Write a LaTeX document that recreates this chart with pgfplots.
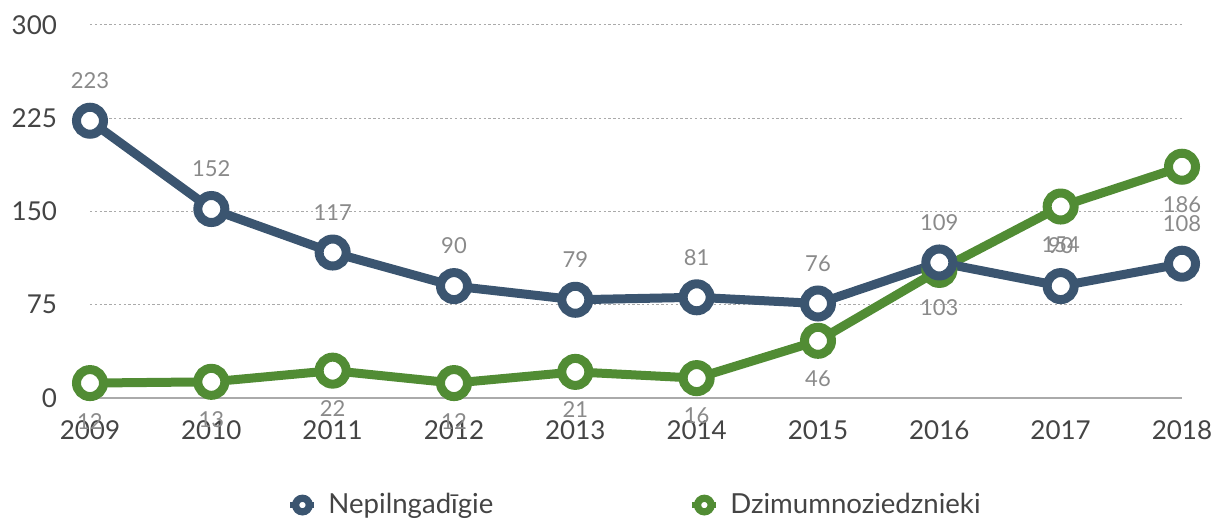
\documentclass[border=0pt]{standalone}
\usepackage{fontspec}
\setmainfont{Lato}
\usepackage{pgfplots}
\pgfplotsset{compat=1.18}
\definecolor{cblue}{HTML}{3B5570}
\definecolor{cgreen}{HTML}{518C34}
\definecolor{labgray}{HTML}{8A8A8A}
\definecolor{tickgray}{HTML}{444444}
\definecolor{gridgray}{HTML}{AAAAAA}
\begin{document}
\begin{tikzpicture}
\begin{axis}[
  scale only axis,
  width=546pt, height=186.5pt,
  xmin=2009, xmax=2018, ymin=0, ymax=300,
  clip=false,
  axis x line*=bottom,
  axis y line*=left,
  y axis line style={draw=none},
  x axis line style={draw=gridgray, line width=0.6pt, -},
  major tick length=0pt,
  xtick={2009,2010,...,2018},
  ytick={0,75,150,225,300},
  /pgf/number format/assume math mode=true,
  /pgf/number format/1000 sep={},
  ymajorgrids,
  grid style={draw=gridgray, line width=0.5pt, dash pattern=on 1.2pt off 1.2pt},
  tick label style={font=\fontsize{13}{15}\selectfont, text=tickgray},
  xticklabel style={anchor=center, yshift=-16pt},
  yticklabel style={anchor=east, xshift=-13pt},
  legend columns=2,
  legend style={at={(0.5,-0.287)}, anchor=center, draw=none, fill=none,
    font=\fontsize{13.8}{16}\selectfont, text=tickgray,
    column sep=0pt,
    /tikz/every even column/.append style={column sep=96pt}},
]
\addlegendimage{legend image code/.code={
  \draw[cblue, line width=3pt] (0pt,0pt) -- (12pt,0pt);
  \draw[cblue, line width=3.6pt, fill=white] (6pt,0pt) circle (3.4pt);
  \path[draw=none, fill=none] (0pt,-1pt) rectangle (17pt,1pt);}}
\addlegendentry{Nepilngadīgie}
\addlegendimage{legend image code/.code={
  \draw[cgreen, line width=3pt] (0pt,0pt) -- (12pt,0pt);
  \draw[cgreen, line width=3.6pt, fill=white] (6pt,0pt) circle (3.4pt);
  \path[draw=none, fill=none] (0pt,-1pt) rectangle (17pt,1pt);}}
\addlegendentry{Dzimumnoziedznieki}

\addplot[forget plot, cgreen, line width=4.5pt, mark=*, mark size=6.75pt,
  mark options={draw=cgreen, fill=white, line width=4.5pt},
  nodes near coords,
  every node near coord/.style={anchor=center, yshift=-19pt,
    font=\fontsize{11}{13}\selectfont, text=labgray}]
coordinates {(2009,12) (2010,13) (2011,22) (2012,12) (2013,21) (2014,16) (2015,46) (2016,103) (2017,154) (2018,186)};

\addplot[forget plot, cblue, line width=4.5pt, mark=*, mark size=6.75pt,
  mark options={draw=cblue, fill=white, line width=4.5pt},
  nodes near coords,
  every node near coord/.style={anchor=center, yshift=20pt,
    font=\fontsize{11}{13}\selectfont, text=labgray}]
coordinates {(2009,223) (2010,152) (2011,117) (2012,90) (2013,79) (2014,81) (2015,76) (2016,109) (2017,90) (2018,108)};
\end{axis}
\pgfresetboundingbox
\path[use as bounding box] (-45pt,-60.5pt) rectangle (562pt,199pt);
\end{tikzpicture}
\end{document}
